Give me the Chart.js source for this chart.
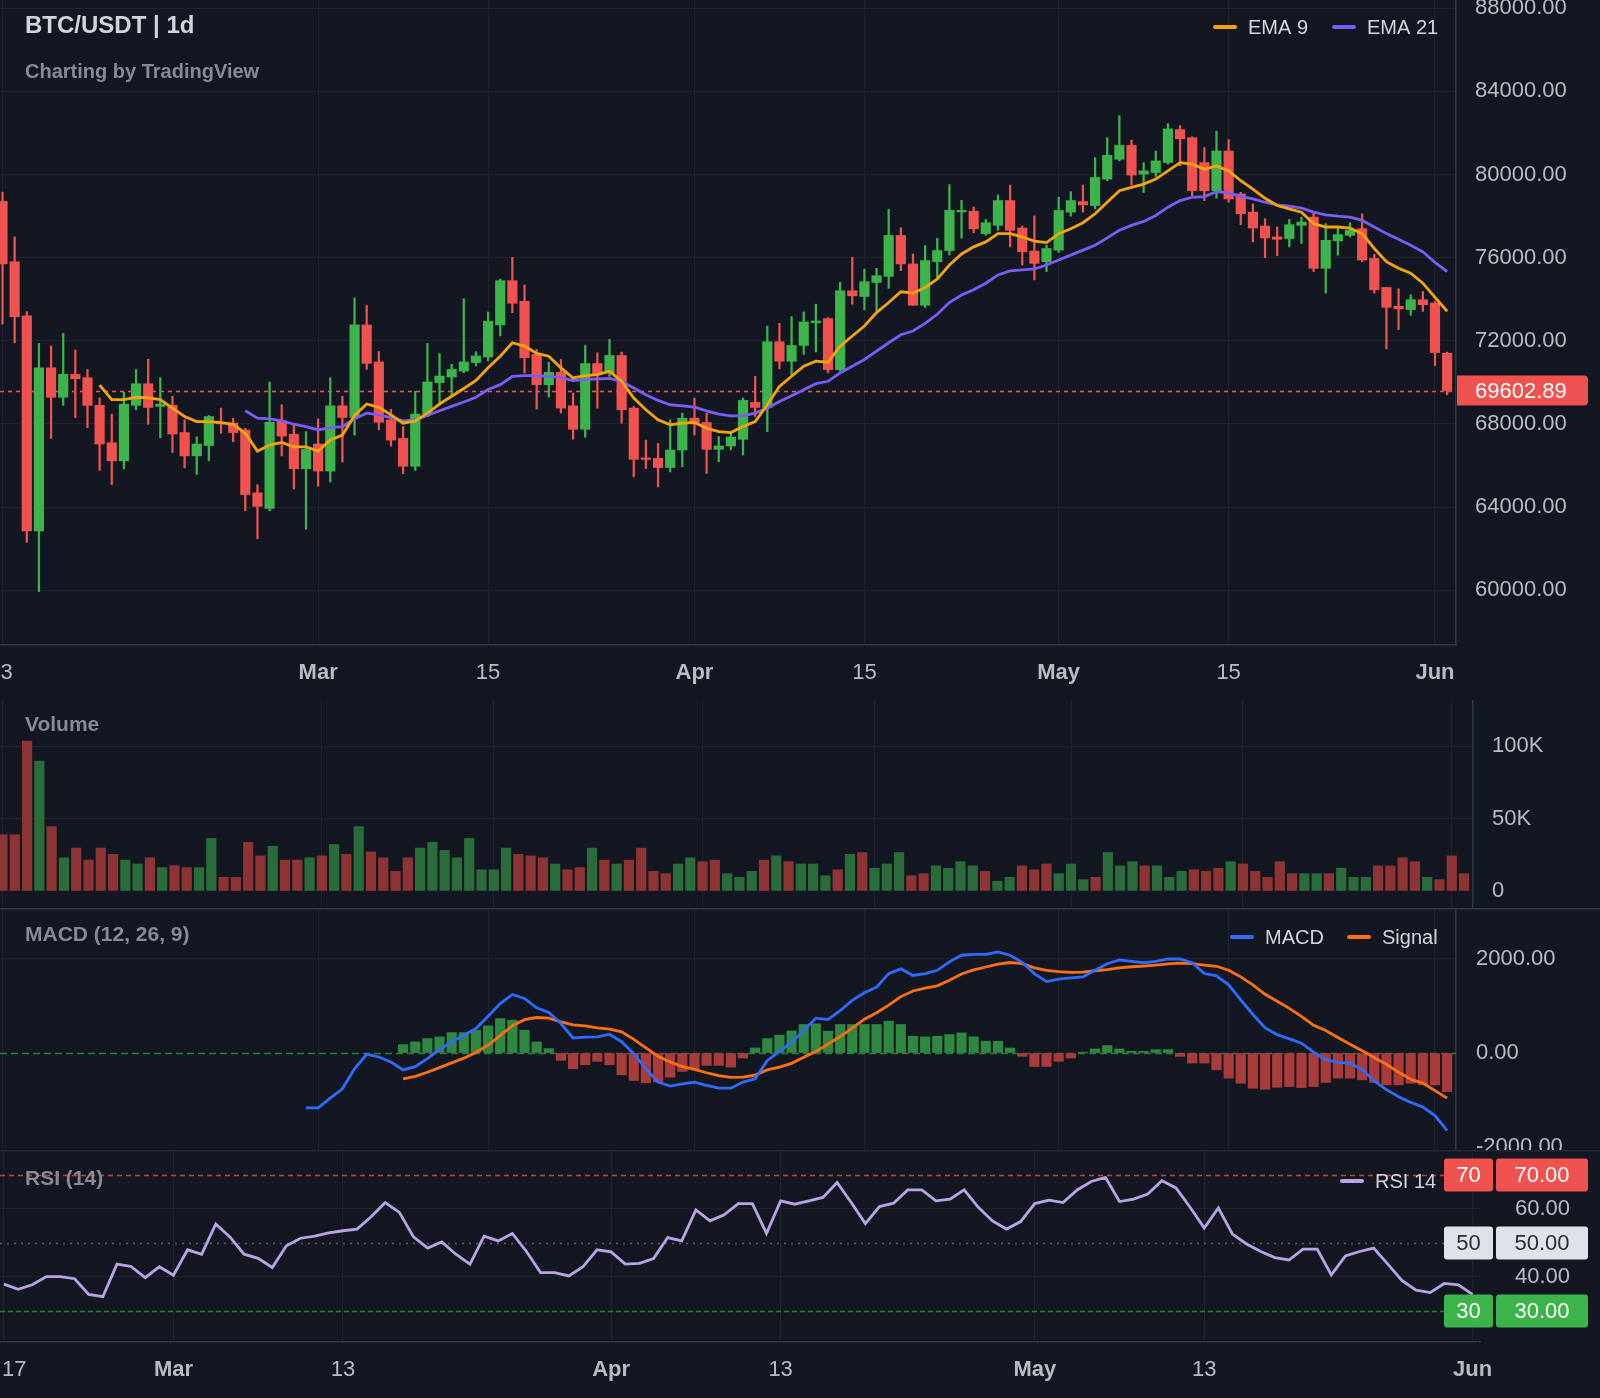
<!DOCTYPE html>
<html>
<head>
<meta charset="utf-8">
<script src="https://cdn.jsdelivr.net/npm/chart.js@4.4.1/dist/chart.umd.min.js"></script>
<style>
  html, body { margin: 0; padding: 0; background: #131722; }
  #wrap { position: relative; width: 1600px; height: 1398px; background: #131722; overflow: hidden; }
  canvas { position: absolute; left: 0; background: #131722; }
</style>
</head>
<body>
<div id="wrap">
  <canvas id="price" width="1600" height="700" style="top:0px"></canvas>
  <canvas id="vol" width="1600" height="208" style="top:700px"></canvas>
  <canvas id="macd" width="1600" height="244" style="top:908px"></canvas>
  <canvas id="rsi" width="1600" height="248" style="top:1150px"></canvas>
</div>
<script>
// ---- daily candles, Feb 3 .. Jun 2 (index 0 = Feb 3) ----
const opens = [78700,75800,73200,62850,70700,69280,70380,70220,68890,67090,66220,68890,69930,68840,68890,67580,66460,66960,68050,68040,67700,64680,63930,68140,67500,65840,67030,65730,68870,68310,72760,70980,68190,67300,65960,68470,69980,70250,70540,70950,71220,
  72760,74890,73900,71338,69887,70483,68870,67741,70903,70435,71290,68758,66350,66340,65900,66740,68274,68064,66773,66935,67257,69032,68790,71951,71016,71774,72870,73064,70612,74403,74129,74806,75097,77065,75694,73710,75807,76339,78200,78226,
  77154,77551,78744,77424,76311,75802,76359,78187,78696,78505,79777,80731,81399,80016,80095,80572,82162,81765,80572,79221,81129,79062,78187,77520,76995,76916,77551,77949,75484,76804,77074,77392,75961,74562,73656,73497,73974,73815,71400];
const highs = [79150,77000,73400,71870,71750,72350,71560,70620,69250,68470,69520,70620,71110,70220,69330,68190,67380,68400,68760,68270,67790,65070,70020,68920,67950,67630,68240,70220,69330,74060,73700,71480,68700,67870,69570,71870,71390,70870,74020,71470,73380,
  74970,76020,74680,71580,70967,71096,69484,71774,71419,72064,71451,68840,67220,67060,68193,68516,69242,68516,67386,67580,69242,70290,72709,72838,73161,73387,73758,73113,74806,76016,75452,75484,78323,77436,76177,76581,76935,79516,78758,78436,
  77838,79014,79491,77520,78000,76597,78903,79173,79491,80811,81765,82830,81654,80572,81129,82449,82353,81813,81288,82083,81685,79141,78585,77869,77472,77838,77949,78187,77631,77472,77679,78108,76152,74562,74499,74213,74372,73894,71450];
const lows = [72800,71900,62300,59930,67300,68890,68300,67820,65760,65080,65840,68680,67980,67330,66620,65880,65570,66220,67550,67140,63820,62470,63820,66460,64870,62930,65000,65200,66170,67460,70620,67710,66930,65600,65760,68350,68950,69410,70460,70790,71030,
  72230,73350,70450,68710,69290,68516,67258,67354,68758,70290,68032,65450,65850,64967,65690,65935,67467,65612,66176,66741,66499,68355,67628,70645,70370,71338,71467,70451,70532,73758,73484,73435,74516,75371,73700,73597,74968,76129,76935,77200,
  77074,77313,76518,75643,74928,75325,76248,77996,78187,78346,79698,80652,79491,79141,79905,80493,80413,78980,78744,78855,78664,77583,76756,75993,76089,76518,76677,75325,74292,76120,76995,75802,74292,71609,72543,73227,73417,70794,69400];
const closes = [75700,73150,62850,70700,69280,70380,70170,68890,67030,66220,68950,69930,68790,68950,67510,66460,67030,68350,68000,67580,64600,64030,68080,67410,65840,66770,65730,68870,68310,72760,70910,68080,67220,65960,68470,70020,70300,70620,70980,71270,72940,
  74890,73806,71180,69887,70483,68758,67741,70903,70370,71290,68677,66290,66290,65900,66740,68274,68032,66773,66935,67370,69129,68790,71951,71016,71774,72903,72950,70612,74403,74161,74839,75129,77065,75694,73710,75855,76339,78274,78230,77387,
  77679,78744,77313,76279,75723,76438,78267,78744,78537,79857,80922,81399,79968,80175,80652,82194,81717,79220,79221,81129,78823,78108,77424,76947,76883,77583,77710,75484,76836,77106,77313,75882,74451,73608,73529,73974,73735,71430,69602.89];
const volumes = [38800,38800,103600,89700,44400,22900,29600,21300,29600,25300,21300,18600,22900,16100,17500,16100,16100,36300,9400,9400,33600,24200,30900,21300,21300,22900,24200,32100,25300,44400,26900,22900,13500,22900,29600,33600,28000,22900,36300,14600,14600,29600,25300,24200,22900,18600,14600,16100,29600,21300,18600,21300,29600,13500,11900,18600,22900,20200,21300,11900,9400,13500,21300,24200,20200,
  18600,18600,10500,14600,25300,26500,15700,18600,26500,10500,11900,17300,15700,20200,17300,13500,6700,9400,17300,14600,18600,11900,18600,7800,9400,26500,17300,20200,17300,17300,9400,13500,14600,13500,15700,20200,18600,13500,9400,20200,11900,11900,11900,11900,15700,9400,9400,17300,17300,22900,20200,9400,7800,24200,11900];

const N8 = [null,null,null,null,null,null,null,null];
const ema9 = [...N8,
  69862,69165,69165,69280,69246,69165,68760,68355,68112,68112,68063,67982,67545,66687,66978,67108,66897,66897,66687,67221,67464,68404,68955,68792,68436,68031,68144,68517,68955,69327,69700,70088,70704,
  71258,71903,71742,71387,71258,70693,70209,70322,70370,70532,70048,69241,68677,68193,67951,68032,68064,67790,67629,67580,67870,68112,68919,69806,70290,70774,71016,70967,71742,72226,72709,73355,73839,74355,74290,74564,74968,75645,76177,76518,
  76756,77154,77154,76995,76788,76725,77154,77392,77679,78108,78664,79221,79380,79539,79777,80175,80572,80493,80254,80413,80175,79698,79300,78855,78505,78346,78187,77631,77472,77472,77424,77154,76438,75802,75484,75246,74769,74085,73417];
const ema21 = [...N8, ...N8, null,null,null,null,
  68630,68274,68242,68144,67982,67869,67707,67820,67869,68242,68517,68436,68306,68144,68193,68404,68630,68841,69052,69280,69651,
  69887,70290,70322,70322,70290,70241,70080,70129,70161,70193,70048,69725,69403,69129,68919,68870,68806,68629,68467,68387,68387,68516,68758,69080,69354,69645,69935,70048,70451,70774,71096,71500,71903,72290,72467,72838,73274,73839,74200,74451,
  74769,75166,75357,75405,75453,75643,75882,76120,76359,76597,76947,77313,77551,77742,78028,78426,78744,78903,78935,79173,79110,78951,78823,78664,78537,78474,78378,78187,78060,77996,77949,77790,77472,77154,76884,76597,76279,75771,75325];

// ---- MACD (12, 26, 9) ----
const N25 = Array(25).fill(null);
const N33 = Array(33).fill(null);
const macdLine = [...N25,
  -1168,-1168,-961,-762,-335,-28,-85,-192,-360,-290,-121,71,235,377,520,780,1050,1246,1161,961,862,627,320,340,345,399,240,-14,-335,-619,-705,-655,-619,-691,-748,-748,-619,-548,-157,30,230,
  480,740,710,900,1120,1280,1400,1690,1790,1650,1690,1760,1940,2080,2100,2100,2150,2080,1930,1690,1520,1570,1600,1620,1760,1900,1980,1950,1920,1950,2000,2000,1920,1690,1640,1450,1130,820,540,390,300,210,20,-140,-200,-220,-350,-600,-780,-930,-1050,-1150,-1330,-1650];
const signalLine = [...N33,
  -548,-495,-410,-310,-210,-110,10,170,370,580,
  710,755,740,660,600,577,534,506,449,290,
  110,-70,-190,-290,-350,-420,-480,-520,-515,-470,
  -360,-300,-220,-90,30,190,350,530,720,857,
  1020,1200,1320,1380,1430,1550,1680,1770,1830,1890,
  1925,1900,1810,1760,1730,1715,1720,1750,1775,1810,
  1835,1850,1870,1895,1912,1900,1870,1845,1760,1620,
  1450,1250,1100,950,780,590,480,330,185,50,
  -100,-240,-410,-560,-640,-800,-960];
const macdHist = [...N33,
  178,235,306,342,434,434,484,577,733,698,
  484,235,93,-157,-335,-249,-178,-249,-463,-584,
  -634,-619,-513,-392,-335,-263,-263,-299,-107,107,
  306,380,470,607,621,464,607,607,607,607,
  678,607,357,343,357,393,428,343,250,250,
  107,-71,-286,-286,-178,-107,20,86,157,86,
  36,36,71,71,-71,-214,-214,-357,-535,-643,
  -750,-771,-728,-714,-735,-714,-628,-535,-535,-571,
  -628,-678,-678,-643,-678,-678,-821];

// ---- RSI 14, Feb 17 .. Jun 1 (index 0 = Feb 17) ----
const rsi14 = [37.9,36.4,37.7,40.1,40.1,39.5,34.9,34.2,43.8,43.1,
  39.8,43.0,40.5,48.0,46.7,55.6,51.8,46.7,45.5,42.8,
  49.2,51.4,52.0,53.0,53.6,54.1,57.7,61.9,59.0,51.8,
  48.5,50.3,46.7,43.8,52.0,50.6,52.8,47.5,41.3,41.3,
  40.3,43.0,48.0,47.4,43.8,44.0,45.4,51.6,50.6,59.7,
  56.5,58.3,61.6,61.6,52.8,62.4,61.4,62.4,63.4,67.8,
  61.9,55.7,60.7,61.7,65.6,65.6,62.4,62.9,65.6,60.5,
  56.5,54.1,56.3,61.6,62.6,61.9,65.6,68.1,69.3,62.2,
  62.9,64.4,68.3,66.2,60.5,54.4,60.3,52.6,49.7,47.5,
  45.7,45.0,48.2,48.2,40.6,46.2,47.5,48.5,43.8,39.0,
  36.1,35.4,38.1,37.7,34.9];

// ---- ticks ----
const priceTickIdx = [0, 26, 40, 57, 71, 87, 101, 118];
const priceTickText = ['3', 'Mar', '15', 'Apr', '15', 'May', '15', 'Jun'];
const rsiTickIdx = [0, 12, 24, 43, 55, 73, 85, 104];
const rsiTickText = ['17', 'Mar', '13', 'Apr', '13', 'May', '13', 'Jun'];
const priceYTicks = [60000, 64000, 68000, 72000, 76000, 80000, 84000, 88000];
const volYTicks = [0, 50000, 100000];
const macdYTicks = [-2000, 0, 2000];
const rsiYTicks = [30, 40, 50, 60, 70];
const rsiLevels = [70, 50, 30];

// ---- styling ----
const FONT = "'Liberation Sans', Arial, Helvetica, sans-serif";
Chart.defaults.font.family = FONT;
Chart.defaults.animation = false;
const C = {
  grid: '#1f2330', axis: '#323744', tick: '#b8bbc3', muted: '#868a95', legend: '#d1d4dc',
  up: '#3cb44b', down: '#f0524f', volUp: '#2a6d3b', volDown: '#8f3434',
  histUp: '#2e8840', histDown: '#a93b3b',
  ema9: '#f5a40b', ema21: '#7b5cf5', macd: '#2f6bff', signal: '#ff7010', rsi: '#b8a4e3'
};
const levelStyle = {
  70: {line: '#c2413b', dash: [5, 4], box: '#f0524f', text: '#ffffff'},
  50: {line: '#5a5f6b', dash: [2, 5], box: '#dfe2ea', text: '#2a2e39'},
  30: {line: '#2e7d3a', dash: [5, 3], box: '#3cb44b', text: '#ffffff'}
};

const idx = closes.map((_, i) => i);
const isUp = closes.map((c, i) => c >= opens[i]);
const series = arr => arr.map((v, i) => v == null ? null : {x: i, y: v}).filter(Boolean);
const lastClose = closes[closes.length - 1];
const lastColor = isUp[isUp.length - 1] ? C.up : C.down;

function baseOptions(scales) {
  return {
    responsive: false, maintainAspectRatio: false, devicePixelRatio: 1, animation: false,
    layout: {padding: 0, autoPadding: false},
    events: [],
    plugins: {legend: {display: false}, tooltip: {enabled: false}},
    scales
  };
}

const tickFont = text => ({size: 22, weight: /^[A-Z]/.test(text || '') ? 'bold' : 'normal'});

// date axis; the first label sits on the left edge and is drawn by edgeLabel below
function xAxis(tickIdx, tickText, range, showLabels, height, border) {
  return {
    type: 'linear', min: range[0], max: range[1], offset: false,
    grid: {color: C.grid, drawTicks: false, offset: false},
    border: {display: border, color: C.axis, width: 1.5},
    ticks: {
      display: showLabels, autoSkip: false, maxRotation: 0, padding: 15, color: C.tick,
      font: ctx => tickFont(tickText[ctx.index]),
      callback: (v, i) => i === 0 ? '' : tickText[i]
    },
    afterBuildTicks: s => { s.ticks = tickIdx.map(v => ({value: v})); },
    afterFit: s => { s.height = height; s.paddingLeft = 0; s.paddingRight = 0; }
  };
}

function edgeLabel(tickIdx, tickText) {
  return {
    id: 'edgeLabel',
    afterDraw(chart) {
      const {ctx, scales: {x}} = chart;
      const f = tickFont(tickText[0]);
      ctx.save();
      ctx.font = (f.weight === 'bold' ? 'bold ' : '') + f.size + 'px ' + FONT;
      ctx.fillStyle = C.tick; ctx.textAlign = 'left'; ctx.textBaseline = 'middle';
      ctx.fillText(tickText[0], Math.max(0, x.getPixelForValue(tickIdx[0]) - 2), x.top + 15 + 13.2);
      ctx.restore();
    }
  };
}

function yAxis(values, fmt, range, width, padding, hidden, border) {
  return {
    type: 'linear', position: 'right', min: range[0], max: range[1], beginAtZero: false,
    grid: {drawTicks: false, color: ctx => (ctx.tick && hidden.includes(ctx.tick.value)) ? 'rgba(0,0,0,0)' : C.grid},
    border: {display: border, color: C.axis, width: 1.5},
    ticks: {padding, color: C.tick, font: {size: 22}, callback: v => fmt(v)},
    afterBuildTicks: s => { s.ticks = values.map(v => ({value: v})); },
    afterFit: s => { s.width = width; s.paddingTop = 0; s.paddingBottom = 0; }
  };
}

function drawLegend(ctx, items, y) {
  ctx.save();
  ctx.font = '20px ' + FONT;
  ctx.textBaseline = 'middle';
  ctx.textAlign = 'left';
  items.forEach(([color, text, x]) => {
    ctx.strokeStyle = color; ctx.lineWidth = 4; ctx.lineCap = 'round';
    ctx.beginPath(); ctx.moveTo(x, y); ctx.lineTo(x + 20, y); ctx.stroke();
    ctx.fillStyle = C.legend;
    ctx.fillText(text, x + 33, y + 1);
  });
  ctx.restore();
}

function panelTitle(ctx, text, y) {
  ctx.save();
  ctx.fillStyle = C.muted; ctx.font = 'bold 21px ' + FONT;
  ctx.textBaseline = 'middle'; ctx.textAlign = 'left';
  ctx.fillText(text, 25, y);
  ctx.restore();
}

function box(ctx, x, y, w, h, r, fill, text, color) {
  ctx.fillStyle = fill;
  ctx.beginPath(); ctx.roundRect(x, y, w, h, r); ctx.fill();
  ctx.fillStyle = color; ctx.textAlign = 'center'; ctx.textBaseline = 'middle';
  ctx.fillText(text, x + w / 2, y + h / 2 + 1);
}

const candleRange = [-0.206, 119.73];
const rsiRange = [-0.283, 104.53];
const fmt2 = v => v.toFixed(2);

// ---- price panel ----
const priceDecor = {
  id: 'priceDecor',
  beforeDatasetsDraw(chart) {
    const {ctx, chartArea: a, scales: {y}} = chart;
    const py = Math.round(y.getPixelForValue(lastClose)) + 0.5;
    ctx.save();
    ctx.strokeStyle = lastColor; ctx.lineWidth = 1.5; ctx.setLineDash([4, 4]);
    ctx.beginPath(); ctx.moveTo(a.left, py); ctx.lineTo(a.right, py); ctx.stroke();
    ctx.restore();
  },
  afterDraw(chart) {
    const {ctx, chartArea: a, scales: {y}} = chart;
    const py = y.getPixelForValue(lastClose);
    ctx.save();
    ctx.font = '22px ' + FONT;
    ctx.fillStyle = lastColor;
    ctx.beginPath(); ctx.roundRect(a.right + 1, py - 15, 131, 30, [0, 4, 4, 0]); ctx.fill();
    ctx.fillStyle = '#ffffff'; ctx.textBaseline = 'middle'; ctx.textAlign = 'left';
    ctx.fillText(lastClose.toFixed(2), a.right + 19, py + 1);
    ctx.fillStyle = '#d1d4dc'; ctx.font = 'bold 24px ' + FONT;
    ctx.fillText('BTC/USDT | 1d', 25, 26);
    ctx.fillStyle = C.muted; ctx.font = 'bold 20px ' + FONT;
    ctx.fillText('Charting by TradingView', 25, 72);
    ctx.restore();
    drawLegend(ctx, [[C.ema9, 'EMA 9', 1215], [C.ema21, 'EMA 21', 1334]], 27);
  }
};

new Chart(document.getElementById('price'), {
  type: 'bar',
  data: {
    datasets: [
      {type: 'line', label: 'EMA 9', data: series(ema9), borderColor: C.ema9, borderWidth: 2.8, pointRadius: 0, order: 0},
      {type: 'line', label: 'EMA 21', data: series(ema21), borderColor: C.ema21, borderWidth: 2.8, pointRadius: 0, order: 1},
      {label: 'body', data: idx.map(i => ({x: i, y: [opens[i], closes[i]]})), backgroundColor: isUp.map(u => u ? C.up : C.down),
        barThickness: 9.5, minBarLength: 1.5, grouped: false, borderWidth: 0, order: 2},
      {label: 'wick', data: idx.map(i => ({x: i, y: [lows[i], highs[i]]})), backgroundColor: isUp.map(u => u ? C.up : C.down),
        barThickness: 1.6, grouped: false, borderWidth: 0, order: 3}
    ]
  },
  options: baseOptions({
    x: xAxis(priceTickIdx, priceTickText, candleRange, true, 55, true),
    y: yAxis(priceYTicks, fmt2, [57360, 88395], 144, 19, [], true)
  }),
  plugins: [priceDecor, edgeLabel(priceTickIdx, priceTickText)]
});

// ---- volume panel ----
new Chart(document.getElementById('vol'), {
  type: 'bar',
  data: {
    datasets: [{label: 'Volume', data: idx.map(i => ({x: i, y: volumes[i]})),
      backgroundColor: isUp.map(u => u ? C.volUp : C.volDown), barThickness: 9.5, grouped: false, borderWidth: 0}]
  },
  options: baseOptions({
    x: xAxis(priceTickIdx, priceTickText, candleRange, false, 0, false),
    y: yAxis(volYTicks, v => v === 0 ? '0' : (v / 1000) + 'K', [-11800, 131900], 127, 19, [0], true)
  }),
  plugins: [{id: 'volDecor', afterDraw(chart) { panelTitle(chart.ctx, 'Volume', 25); }}]
});

// ---- MACD panel ----
new Chart(document.getElementById('macd'), {
  type: 'bar',
  data: {
    datasets: [
      {type: 'line', label: 'MACD', data: series(macdLine), borderColor: C.macd, borderWidth: 2.8, pointRadius: 0, order: 0},
      {type: 'line', label: 'Signal', data: series(signalLine), borderColor: C.signal, borderWidth: 2.8, pointRadius: 0, order: 1},
      {label: 'Histogram', data: series(macdHist), backgroundColor: ctx => (ctx.raw && ctx.raw.y >= 0) ? C.histUp : C.histDown,
        barThickness: 9.5, grouped: false, borderWidth: 0, order: 2}
    ]
  },
  options: baseOptions({
    x: xAxis(priceTickIdx, priceTickText, candleRange, false, 0, false),
    y: yAxis(macdYTicks, fmt2, [-2106, 3085], 144, 20, [0, -2000], true)
  }),
  plugins: [{
    id: 'macdDecor',
    beforeDatasetsDraw(chart) {
      const {ctx, chartArea: a, scales: {y}} = chart;
      const py = Math.round(y.getPixelForValue(0)) + 0.5;
      ctx.save();
      ctx.strokeStyle = '#2e7d3a'; ctx.lineWidth = 1.5; ctx.setLineDash([7, 4]);
      ctx.beginPath(); ctx.moveTo(a.left, py); ctx.lineTo(a.right, py); ctx.stroke();
      ctx.restore();
    },
    afterDraw(chart) {
      const {ctx} = chart;
      ctx.save(); ctx.fillStyle = C.axis; ctx.fillRect(0, 0, 1600, 1.5); ctx.restore();
      panelTitle(ctx, 'MACD (12, 26, 9)', 27);
      drawLegend(ctx, [[C.macd, 'MACD', 1232], [C.signal, 'Signal', 1349]], 29);
    }
  }]
});

// ---- RSI panel ----
new Chart(document.getElementById('rsi'), {
  type: 'line',
  data: {
    datasets: [{label: 'RSI 14', data: series(rsi14), borderColor: C.rsi, borderWidth: 2.8, pointRadius: 0}]
  },
  options: baseOptions({
    x: xAxis(rsiTickIdx, rsiTickText, rsiRange, true, 56, true),
    y: yAxis(rsiYTicks, fmt2, [20.88, 77.35], 120, 35, rsiLevels, false)
  }),
  plugins: [edgeLabel(rsiTickIdx, rsiTickText), {
    id: 'rsiDecor',
    beforeDatasetsDraw(chart) {
      const {ctx, chartArea: a, scales: {y}} = chart;
      ctx.save();
      ctx.lineWidth = 1.5;
      rsiLevels.forEach(l => {
        const py = Math.round(y.getPixelForValue(l)) + 0.5;
        ctx.strokeStyle = levelStyle[l].line; ctx.setLineDash(levelStyle[l].dash);
        ctx.beginPath(); ctx.moveTo(a.left, py); ctx.lineTo(a.right, py); ctx.stroke();
      });
      ctx.restore();
    },
    afterDraw(chart) {
      const {ctx, scales: {y}} = chart;
      ctx.save(); ctx.fillStyle = '#242833'; ctx.fillRect(0, 0, 1600, 1.5); ctx.restore();
      panelTitle(ctx, 'RSI (14)', 29);
      drawLegend(ctx, [[C.rsi, 'RSI 14', 1342]], 31);
      ctx.save();
      ctx.font = '22px ' + FONT;
      rsiLevels.forEach(l => {
        const py = y.getPixelForValue(l);
        const s = levelStyle[l];
        box(ctx, 1444, py - 16.5, 49, 33, 3, s.box, String(l), s.text);
        box(ctx, 1496, py - 16.5, 92, 33, 3, s.box, l.toFixed(2), s.text);
      });
      ctx.restore();
    }
  }]
});
</script>
</body>
</html>
